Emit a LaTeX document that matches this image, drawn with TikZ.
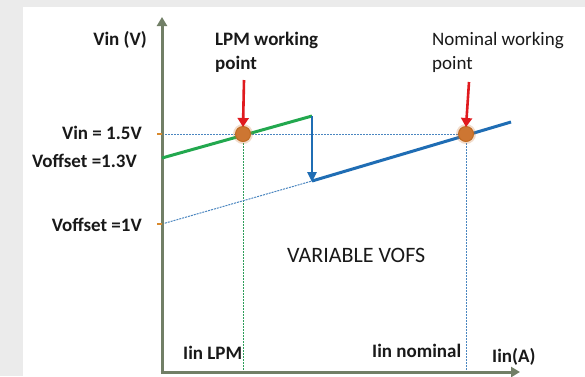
\documentclass[tikz,border=0pt]{standalone}
\usepackage{fontspec}
\setmainfont{Carlito}
\usetikzlibrary{arrows.meta}
\definecolor{bgc}{HTML}{EBEBEB}
\definecolor{axisc}{HTML}{717F66}
\definecolor{greenc}{HTML}{22A84E}
\definecolor{bluec}{HTML}{1F6DB4}
\definecolor{dashblue}{HTML}{4A86C0}
\definecolor{dashgreen}{HTML}{2E9E5A}
\definecolor{redc}{HTML}{E01A1E}
\definecolor{dotc}{HTML}{CD7632}
\definecolor{dotedge}{HTML}{C06A22}
\definecolor{tickc}{HTML}{D98A2E}
\tikzset{
  lbl/.style={font=\fontsize{19}{23}\selectfont, inner sep=0pt, text=black!90},
  blbl/.style={lbl, font=\fontsize{19}{23}\selectfont\bfseries},
  axisline/.style={draw=axisc, line width=3pt, -{Triangle[length=9pt,width=10pt]}},
  curveg/.style={draw=greenc, line width=3pt},
  curveb/.style={draw=bluec, line width=3pt},
  guideb/.style={draw=dashblue, line width=1pt, dash pattern=on 2pt off 1pt},
  guideg/.style={draw=dashgreen, line width=1pt, dash pattern=on 2pt off 1pt},
  redarr/.style={draw=redc, line width=2.6pt, -{Triangle[length=9pt,width=11pt]}},
  bluearr/.style={draw=bluec, line width=2.4pt, -{Triangle[length=10pt,width=9pt]}},
  tickmark/.style={draw=tickc, line width=1.5pt},
  wpdot/.style={circle, minimum size=15pt, inner sep=0pt, fill=dotc, draw=dotedge, line width=1pt},
}
\begin{document}
\begin{tikzpicture}[x=1pt,y=-1pt]
\fill[bgc] (0,0) rectangle (585,376);
\fill[white] (23,7) rectangle (585,376);
\useasboundingbox (0,0) rectangle (585,376);

% key coordinates
\coordinate (O) at (162,372);
\coordinate (Ytop) at (162,17);
\coordinate (Xend) at (520,372);
\coordinate (t15) at (162,134);
\coordinate (t1) at (162,224);
\coordinate (g0) at (162,158);
\coordinate (g1) at (312,116);
\coordinate (b0) at (312,181);
\coordinate (b1) at (511,122);
\coordinate (bdrop) at (312,182);
\coordinate (lpmB) at (243,372);
\coordinate (nomB) at (466,372);
\coordinate (lpmA) at (244,80);
\coordinate (nomA) at (469,82);
\coordinate (tk15a) at (157,134);
\coordinate (tk1a) at (157,224);

% guides
\draw[guideb] (t15) -- (466,134);
\draw[guideg] (243,134) -- (lpmB);
\draw[guideb] (466,134) -- (nomB);
\draw[guideb] (t1) -- (b0);

% axes
\draw[axisline] (O) -- (Ytop);
\draw[axisline] ([xshift=-1.5pt]O) -- (Xend);

% ticks
\draw[tickmark] (tk15a) -- (t15);
\draw[tickmark] (tk1a) -- (t1);

% curves
\draw[curveg] (g0) -- (g1);
\draw[curveb] (b0) -- (b1);
\draw[bluearr] (g1) -- (bdrop);

% working points
\fill[dotc, opacity=0.25] (243,134) circle (10pt);
\fill[dotc, opacity=0.25] (466,134) circle (10pt);
\node[wpdot] (lpm) at (243,134) {};
\node[wpdot] (nom) at (466,134) {};

\draw[redarr] (lpmA) -- ([yshift=-1pt]lpm.north);
\draw[redarr] (nomA) -- ([yshift=-1pt]nom.north);

% labels
\node[blbl, anchor=base east] (vinv) at (147,45.5) {Vin (V)};
\node[blbl, anchor=base east] (vin15) at (142,139) {Vin = 1.5V};
\node[blbl, anchor=base east] (vo13) at (137,167) {Voffset =1.3V};
\node[blbl, anchor=base east] (vo1) at (142,231.5) {Voffset =1V};
\node[blbl, anchor=base west] (lpmT1) at (215,45.5) {LPM working};
\node[blbl, anchor=base west] (lpmT2) at (215,69) {point};
\node[lbl, anchor=base west] (nomT1) at (432,45) {Nominal working};
\node[lbl, anchor=base west] (nomT2) at (432,69) {point};
\node[lbl, anchor=base west, font=\fontsize{22}{26}\selectfont] (varv) at (287,262) {VARIABLE VOFS};
\node[blbl, anchor=base west] (iinlpm) at (183,359) {Iin LPM};
\node[blbl, anchor=base west] (iinnom) at (372,357) {Iin nominal};
\node[blbl, anchor=base west] (iina) at (492,362) {Iin(A)};
\end{tikzpicture}
\end{document}
